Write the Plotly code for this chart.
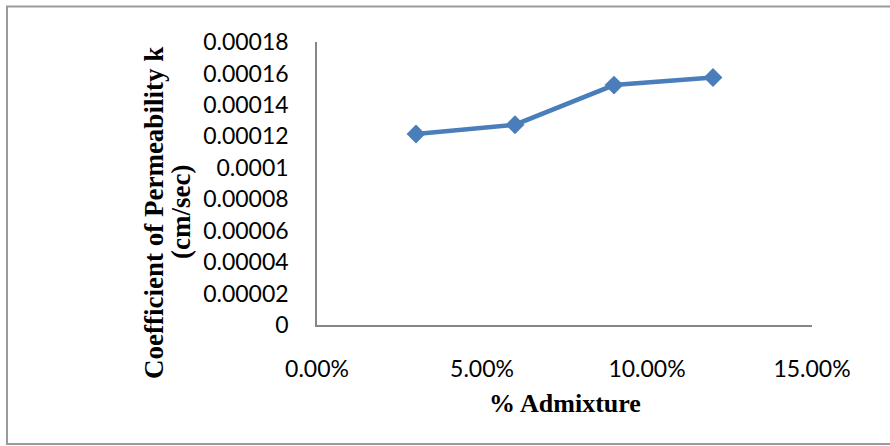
import plotly.graph_objects as go

admixture = [0.03, 0.06, 0.09, 0.12]
permeability = [0.0001215, 0.0001274, 0.0001526, 0.0001574]

y_tick_vals = [0, 0.00002, 0.00004, 0.00006, 0.00008, 0.0001, 0.00012, 0.00014, 0.00016, 0.00018]
y_tick_text = ["0", "0.00002", "0.00004", "0.00006", "0.00008", "0.0001", "0.00012", "0.00014", "0.00016", "0.00018"]
x_tick_vals = [0, 0.05, 0.10, 0.15]
x_tick_text = ["0.00%", "5.00%", "10.00%", "15.00%"]
y_title_lines = ["Coefficient of Permeability k", "(cm/sec)"]
x_title = "% Admixture"

W, H = 890, 446
L, R, T, B = 317, 78, 42, 121
pw, ph = W - L - R, H - T - B

def px2paper_x(px):
    return (px - L) / pw

def px2paper_y(py):
    return (H - B - py) / ph

fig = go.Figure()
fig.add_trace(go.Scatter(
    x=admixture, y=permeability, mode="lines+markers",
    line=dict(color="#4A7EBB", width=4.5),
    marker=dict(symbol="diamond", size=14.5, color="#4A7EBB"),
    showlegend=False,
))

tick_font = dict(family="Lato, Open Sans, sans-serif", size=23, color="#000000")
ytitle_font = dict(family="Liberation Serif, Times New Roman, serif", size=27, color="#000000")
xtitle_font = dict(family="Liberation Serif, Times New Roman, serif", size=26, color="#000000")

fig.update_layout(
    width=W, height=H,
    margin=dict(l=L, r=R, t=T, b=B, pad=0),
    paper_bgcolor="white", plot_bgcolor="white",
    xaxis=dict(range=[0, 0.15], tickvals=x_tick_vals, ticktext=x_tick_text,
               showgrid=False, zeroline=False, showline=True, linecolor="#868686",
               linewidth=1.5, ticks="", tickfont=tick_font, ticklabelstandoff=23),
    yaxis=dict(range=[0, 0.00018], tickvals=y_tick_vals, ticktext=y_tick_text,
               showgrid=False, zeroline=False, showline=True, linecolor="#868686",
               linewidth=1.5, ticks="", tickfont=tick_font, ticklabelstandoff=22),
    annotations=[
        dict(text="<b>" + y_title_lines[0] + "</b>",
             xref="paper", yref="paper", x=px2paper_x(154), y=px2paper_y(213),
             xanchor="center", yanchor="middle", textangle=-90, showarrow=False,
             font=ytitle_font),
        dict(text="<b>" + y_title_lines[1] + "</b>",
             xref="paper", yref="paper", x=px2paper_x(181), y=px2paper_y(212),
             xanchor="center", yanchor="middle", textangle=-90, showarrow=False,
             font=ytitle_font),
        dict(text="<b>" + x_title + "</b>",
             xref="paper", yref="paper", x=px2paper_x(565), y=px2paper_y(403),
             xanchor="center", yanchor="middle", showarrow=False, font=xtitle_font),
    ],
    shapes=[
        dict(type="rect", xref="paper", yref="paper",
             x0=px2paper_x(7), x1=px2paper_x(895), y0=px2paper_y(444), y1=px2paper_y(6.5),
             line=dict(color="#9a9a9a", width=2), fillcolor="rgba(0,0,0,0)", layer="below"),
    ],
)

fig.write_html("out.html")
